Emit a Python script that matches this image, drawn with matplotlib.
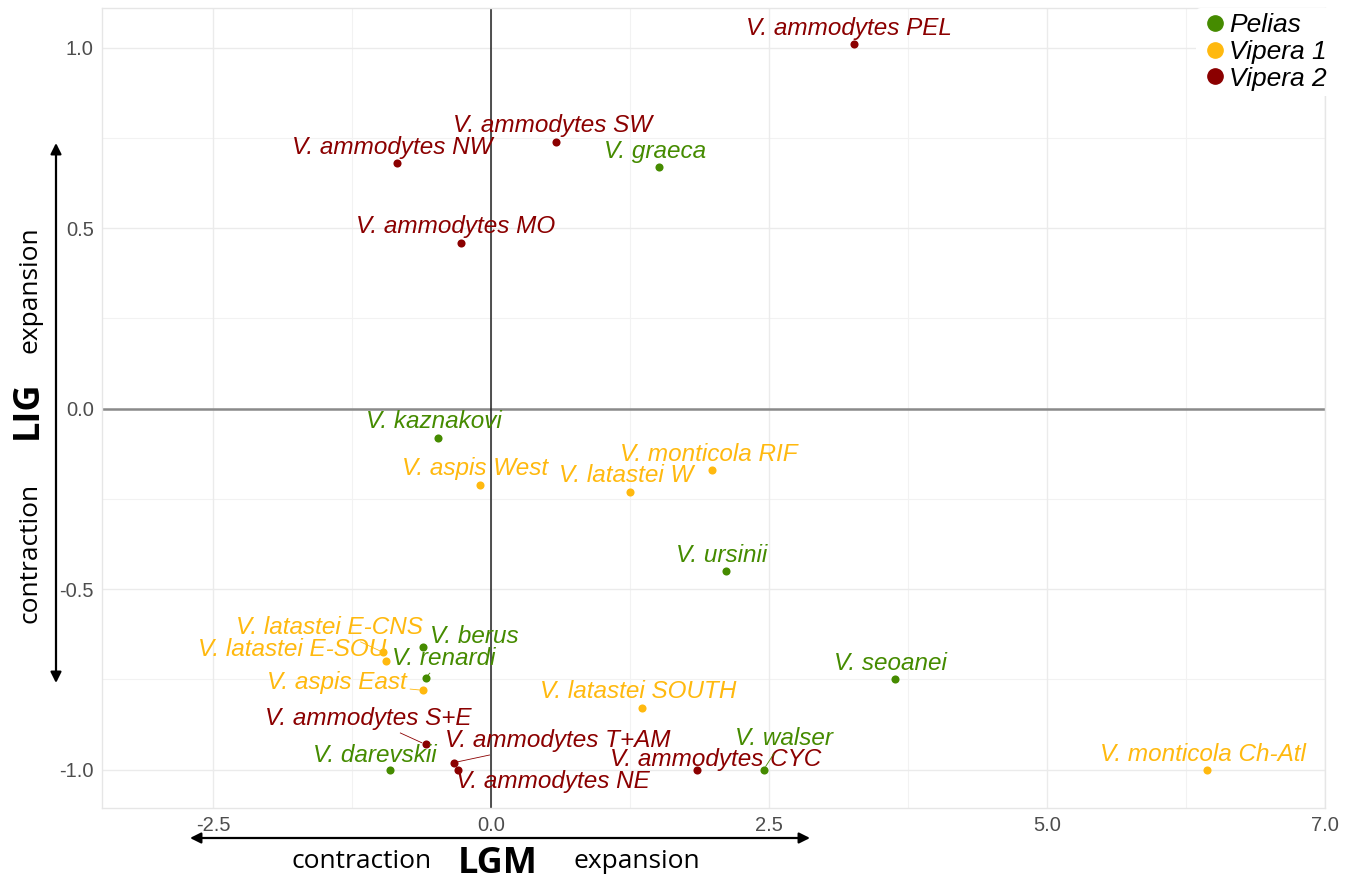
import matplotlib
matplotlib.use("Agg")
import matplotlib.pyplot as plt
from matplotlib.lines import Line2D
import numpy as np

# ---------------- data ----------------
names = [
    "V. ammodytes PEL", "V. ammodytes SW", "V. ammodytes NW", "V. graeca",
    "V. ammodytes MO", "V. kaznakovi", "V. aspis West", "V. monticola RIF",
    "V. latastei W", "V. ursinii", "V. seoanei", "V. latastei E-CNS",
    "V. latastei E-SOU", "V. berus", "V. renardi", "V. aspis East",
    "V. latastei SOUTH", "V. ammodytes S+E", "V. ammodytes T+AM", "V. walser",
    "V. darevskii", "V. ammodytes CYC", "V. ammodytes NE", "V. monticola Ch-Atl",
]
lgm = [3.26, 0.58, -0.85, 1.51, -0.27, -0.48, -0.10, 1.99,
       1.25, 2.11, 3.63, -0.97, -0.95, -0.61, -0.59, -0.61,
       1.36, -0.59, -0.33, 2.45, -0.91, 1.85, -0.30, 6.44]
lig = [1.01, 0.74, 0.68, 0.67, 0.46, -0.08, -0.21, -0.17,
       -0.23, -0.45, -0.75, -0.675, -0.70, -0.66, -0.745, -0.78,
       -0.83, -0.93, -0.98, -1.0, -1.0, -1.0, -1.0, -1.0]
group = ["Vipera 2", "Vipera 2", "Vipera 2", "Pelias",
         "Vipera 2", "Pelias", "Vipera 1", "Vipera 1",
         "Vipera 1", "Pelias", "Pelias", "Vipera 1",
         "Vipera 1", "Pelias", "Pelias", "Vipera 1",
         "Vipera 1", "Vipera 2", "Vipera 2", "Pelias",
         "Pelias", "Vipera 2", "Vipera 2", "Vipera 1"]
groups = ["Pelias", "Vipera 1", "Vipera 2"]
x_ticks = [-2.5, 0.0, 2.5, 5.0, 7.5]
x_tick_labels = ["-2.5", "0.0", "2.5", "5.0", "7.0"]
y_ticks = [-1.0, -0.5, 0.0, 0.5, 1.0]
y_tick_labels = ["-1.0", "-0.5", "0.0", "0.5", "1.0"]

# ---------------- styling ----------------
colors = {"Pelias": "#458B00", "Vipera 1": "#FFB90F", "Vipera 2": "#8B0000"}
# label offsets (pixels, right/down positive) from each point, ggrepel-like
label_off = [(-5, -16), (-3, -16), (-4, -16), (-4, -15), (-5, -16), (-4, -16),
             (-5, -16), (-4, -16), (-4, -16), (-4, -16), (-4, -16), (-54, -25),
             (-93, -12), (51, -10), (18, -19), (-86, -8), (-4, -17), (-57, -26),
             (103, -22), (20, -31), (-15, -14), (19, -10), (95, 12), (-4, -15)]

W, H, DPI = 1350, 881, 100
fig = plt.figure(figsize=(W / DPI, H / DPI), dpi=DPI)
L, R, T, B = 102, 1325, 8, 808
ax = fig.add_axes([L / W, 1 - B / H, (R - L) / W, (B - T) / H])
ax.set_xlim(-3.5, 7.5)
ax.set_ylim(-1.106, 1.11)

# grid
for v in [-1.25, 1.25, 3.75, 6.25]:
    ax.axvline(v, color="#f2f2f2", lw=0.8, zorder=0)
for v in [-0.75, -0.25, 0.25, 0.75]:
    ax.axhline(v, color="#f2f2f2", lw=0.8, zorder=0)
for v in x_ticks:
    ax.axvline(v, color="#ebebeb", lw=1.0, zorder=0)
for v in y_ticks:
    ax.axhline(v, color="#ebebeb", lw=1.0, zorder=0)

ax.axhline(0, color="#8a8a8a", lw=1.8, zorder=1)
ax.axvline(0, color="#222222", lw=1.1, zorder=1)

for s in ax.spines.values():
    s.set_color("#e6e6e6")
    s.set_linewidth(1.0)

ax.set_xticks(x_ticks)
ax.set_xticklabels(x_tick_labels)
ax.set_yticks(y_ticks)
ax.set_yticklabels(y_tick_labels)
ax.tick_params(length=0, labelsize=14.5, labelcolor="#4d4d4d", pad=6)
for t in ax.get_xticklabels() + ax.get_yticklabels():
    t.set_fontfamily("Liberation Sans")

# points + labels
texts = []
for n, xv, yv, g, (dx, dy) in zip(names, lgm, lig, group, label_off):
    c = colors[g]
    ax.scatter([xv], [yv], s=34, color=c, zorder=3, linewidths=0)
    t = ax.annotate(n, xy=(xv, yv), xytext=(dx * 0.72, -dy * 0.72),
                    textcoords="offset points", ha="center", va="center",
                    fontsize=17.5, fontstyle="italic", family="Liberation Sans",
                    color=c, zorder=4)
    texts.append((t, xv, yv, c))

# legend
handles = [Line2D([0], [0], marker="o", color="none", markerfacecolor=colors[g],
                  markeredgecolor=colors[g], markersize=11, label=g) for g in groups]
leg = ax.legend(handles=handles, loc="upper right",
                bbox_to_anchor=(1332 / W, 1 - 8 / H), bbox_transform=fig.transFigure,
                frameon=True, facecolor="white", edgecolor="none", framealpha=1,
                handletextpad=0.05, labelspacing=0.1, handlelength=1.0,
                borderpad=0.2, borderaxespad=0,
                prop={"family": "Liberation Sans", "style": "italic", "size": 19})

# ggrepel-like segments: from the point toward the label centre, stopping at
# the (slightly padded) label box; none when the point touches the box
fig.canvas.draw()
renderer = fig.canvas.get_renderer()
inv = fig.transFigure.inverted()
pad = 3
for t, xv, yv, c in texts:
    bb = t.get_window_extent(renderer)
    x0, x1 = bb.x0 - pad, bb.x1 + pad
    y0, y1 = bb.y0 - pad, bb.y1 + pad
    cx, cy = (bb.x0 + bb.x1) / 2, (bb.y0 + bb.y1) / 2
    px, py = ax.transData.transform((xv, yv))
    if x0 <= px <= x1 and y0 <= py <= y1:
        continue
    vx, vy = cx - px, cy - py
    ts = []
    if vx != 0:
        for xe in (x0, x1):
            tt = (xe - px) / vx
            yy = py + tt * vy
            if 0 <= tt <= 1 and y0 <= yy <= y1:
                ts.append(tt)
    if vy != 0:
        for ye in (y0, y1):
            tt = (ye - py) / vy
            xx = px + tt * vx
            if 0 <= tt <= 1 and x0 <= xx <= x1:
                ts.append(tt)
    if not ts:
        continue
    tt = min(ts)
    qx, qy = px + tt * vx, py + tt * vy
    d = np.hypot(qx - px, qy - py)
    if d > 5:
        sx = px + (qx - px) * 4 / d
        sy = py + (qy - py) * 4 / d
        a = inv.transform((sx, sy))
        b = inv.transform((qx, qy))
        fig.add_artist(Line2D([a[0], b[0]], [a[1], b[1]], color=c, lw=0.6,
                              transform=fig.transFigure, zorder=2))

# axis titles
fx = lambda px: px / W
fy = lambda py: 1 - py / H
fig.text(fx(362), fy(862), "contraction", ha="center", va="center",
         family="Open Sans", fontsize=19)
fig.text(fx(498), fy(864), "LGM", ha="center", va="center",
         family="Open Sans", fontweight="bold", fontsize=26)
fig.text(fx(637), fy(862), "expansion", ha="center", va="center",
         family="Open Sans", fontsize=19)
fig.text(fx(30), fy(553), "contraction", ha="center", va="center", rotation=90,
         family="Open Sans", fontsize=19)
fig.text(fx(28), fy(410), "LIG", ha="center", va="center", rotation=90,
         family="Open Sans", fontweight="bold", fontsize=26)
fig.text(fx(30), fy(290), "expansion", ha="center", va="center", rotation=90,
         family="Open Sans", fontsize=19)

# double-headed arrows
arr = dict(arrowstyle="<|-|>", color="black", lw=1.6, mutation_scale=16,
           shrinkA=0, shrinkB=0)
fig.add_artist(matplotlib.patches.FancyArrowPatch(
    (fx(190), fy(838)), (fx(810), fy(838)), transform=fig.transFigure, **arr))
fig.add_artist(matplotlib.patches.FancyArrowPatch(
    (fx(56), fy(143)), (fx(56), fy(683)), transform=fig.transFigure, **arr))

fig.savefig("out.png", dpi=DPI, facecolor="white")
